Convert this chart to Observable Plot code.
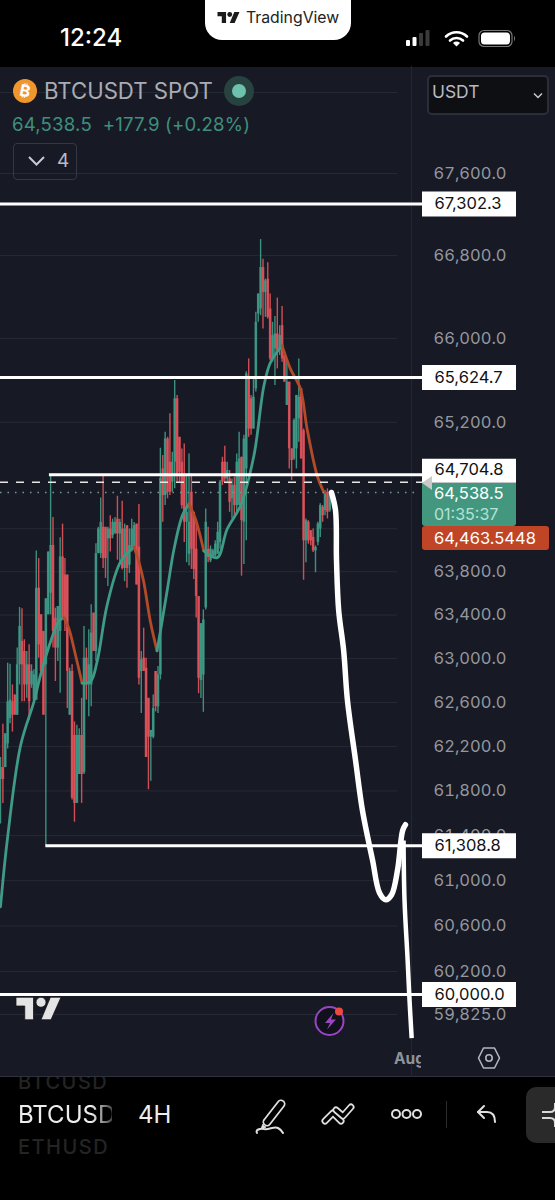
<!DOCTYPE html>
<html>
<head>
<meta charset="utf-8">
<script src="https://cdn.jsdelivr.net/npm/d3@7"></script>
<script src="https://cdn.jsdelivr.net/npm/@observablehq/plot@0.6"></script>
<style>
html,body{margin:0;padding:0;background:#000;width:555px;height:1200px;overflow:hidden;font-family:Inter,"Noto Sans",sans-serif}
#panel{position:absolute;left:0;top:67px;width:555px;height:1010px;background:#171a25;border-bottom:1px solid #2f323c;box-sizing:border-box}
#chart{position:absolute;left:0;top:0;width:555px;height:1200px}
#chart svg{display:block}
.o{position:absolute;white-space:nowrap;line-height:1}
svg.o{overflow:visible}
</style>
</head>
<body>
<div id="panel"></div>
<div id="chart"></div>

<!-- status bar -->
<div class="o" style="left:205px;top:0;width:146px;height:40px;background:#fff;border-radius:0 0 17px 17px"></div>
<svg class="o" style="left:217px;top:12px" width="23" height="11" viewBox="0 0 36 18"><path fill="#1b1b1b" d="M14 18H7V7H0V0h14v18z M28 18h-8l7.5-18H36z"/><circle cx="20" cy="4" r="4" fill="#1b1b1b"/></svg>
<div class="o" style="left:246px;top:10px;font-size:15.8px;color:#222">TradingView</div>
<div class="o" style="left:60px;top:26px;font-size:24px;font-weight:500;color:#fff">12:24</div>
<svg class="o" style="left:405px;top:29px" width="115" height="20">
  <rect x="1" y="11" width="4" height="6" rx="1" fill="#fff"/><rect x="7.5" y="8" width="4" height="9" rx="1" fill="#fff"/><rect x="14" y="4" width="4" height="13" rx="1" fill="#3a3a3a"/><rect x="20.5" y="1" width="4" height="16" rx="1" fill="#3a3a3a"/>
  <path d="M41 7.5a15 15 0 0 1 21 0" fill="none" stroke="#fff" stroke-width="2.6" stroke-linecap="round"/><path d="M45 11.5a9.5 9.5 0 0 1 13 0" fill="none" stroke="#fff" stroke-width="2.6" stroke-linecap="round"/><path d="M51.5 17.5l-3.5-3.5a5 5 0 0 1 7 0z" fill="#fff"/>
  <rect x="74" y="1.5" width="33" height="16" rx="5" fill="none" stroke="#777" stroke-width="1.2"/><rect x="76" y="3.5" width="29" height="12" rx="3.5" fill="#fff"/><path d="M109 7v5c1.4-.5 1.4-4.500 0-5z" fill="#777"/>
</svg>

<!-- chart header -->
<svg class="o" style="left:13px;top:79px" width="24" height="24"><circle cx="12" cy="12" r="12" fill="#f0962f"/><text x="12" y="17.500" text-anchor="middle" font-size="16" font-weight="700" fill="#fff" transform="rotate(12 12 12)" font-family="Inter">₿</text></svg>
<div class="o" style="left:44px;top:80px;font-size:22.2px;color:#a9acb5">BTCUSDT SPOT</div>
<svg class="o" style="left:223px;top:75px" width="32" height="32"><circle cx="16" cy="16" r="15" fill="#27423f"/><circle cx="16" cy="16" r="7" fill="#6cc2ad"/></svg>
<div class="o" style="left:12px;top:115px;font-size:18.6px;letter-spacing:.2px;color:#3f8f7d">64,538.5&nbsp; +177.9 (+0.28%)</div>
<div class="o" style="left:13px;top:143px;width:62px;height:35px;border:1px solid #343843;border-radius:4px;box-sizing:content-box"></div>
<svg class="o" style="left:27px;top:155px" width="20" height="12"><path d="M2 2l7.500 7.500L17 2" fill="none" stroke="#c8cad0" stroke-width="2"/></svg>
<div class="o" style="left:57px;top:151px;font-size:19px;color:#b9bbc2">4</div>
<div class="o" style="left:427px;top:75px;width:122px;height:40px;background:#0e0f13;border:2px solid #2b2e38;border-radius:5px;box-sizing:border-box"></div>
<div class="o" style="left:432px;top:83px;font-size:17.4px;color:#b8bac1">USDT</div>
<svg class="o" style="left:533px;top:92px" width="10" height="8"><path d="M1 1.500l4 4 4-4" fill="none" stroke="#c8cad0" stroke-width="1.500"/></svg>

<!-- last price / EMA tags -->
<div class="o" style="left:422px;top:483px;width:94px;height:43px;background:#43977f;border-radius:0 0 3px 3px"></div>
<div class="o" style="left:434px;top:485px;font-size:16.5px;color:#fff">64,538.5</div>
<div class="o" style="left:434px;top:506px;font-size:16px;color:#b5e3d6">01:35:37</div>
<div class="o" style="left:422px;top:526px;width:127px;height:24px;background:#bf4526;border-radius:3px"></div>
<div class="o" style="left:434px;top:530px;font-size:16.5px;color:#fff">64,463.5448</div>
<svg class="o" style="left:422px;top:476px" width="12" height="14"><path d="M0 7l10-7v14z" fill="#c9c9c9"/></svg>

<!-- watermark, bolt, time axis -->
<svg class="o" style="left:16px;top:997px" width="45" height="23" viewBox="0 0 36 18"><path fill="#e4e4e4" stroke="#111" stroke-width=".6" d="M14 18H7V7H0V0h14v18z M28 18h-8l7.500-18H36z"/><circle cx="20" cy="4" r="4" fill="#e4e4e4" stroke="#111" stroke-width=".6"/></svg>
<svg class="o" style="left:313px;top:1005px" width="36" height="32"><circle cx="16.500" cy="16" r="14" fill="#10111a" stroke="#9a45c4" stroke-width="2"/><path d="M20.500 8l-8.500 10h5l-3 6.500 9-10h-5z" fill="#9a45c4"/><circle cx="26" cy="6.500" r="4" fill="#ea4a3f"/></svg>
<div class="o" style="left:394px;top:1051px;width:27px;height:18px;overflow:hidden;font-size:15.5px;font-weight:700;color:#8f929b">Aug</div>
<svg class="o" style="left:477px;top:1046px" width="24" height="24"><path d="M6.500 2h11l5 10-5 10h-11l-5-10z" fill="none" stroke="#b4b6bd" stroke-width="1.600" stroke-linejoin="round"/><circle cx="12" cy="12" r="3.200" fill="none" stroke="#b4b6bd" stroke-width="1.600"/></svg>

<!-- bottom toolbar -->
<div class="o" style="left:18px;top:1077px;width:94px;height:16px;overflow:hidden;color:#242424;font-size:20px;font-weight:500;line-height:16px"><span style="position:relative;top:-3px;letter-spacing:1.500px">BTCUSD</span></div>
<div class="o" style="left:18px;top:1103px;width:94px;height:26px;overflow:hidden;font-size:24px;font-weight:400;color:#ededed;-webkit-mask-image:linear-gradient(90deg,#000 78%,rgba(0,0,0,.3) 100%)">BTCUSD</div>
<div class="o" style="left:18px;top:1137px;width:94px;height:18px;overflow:hidden;color:#242424;font-size:20px;font-weight:500;letter-spacing:1.500px">ETHUSD</div>
<div class="o" style="left:138px;top:1103px;font-size:24px;color:#ededed">4H</div>
<svg class="o" style="left:250px;top:1095px" width="40" height="46" fill="none" stroke-linecap="round" stroke-linejoin="round">
  <path d="M17 27L31 9" stroke="#e0e0e0" stroke-width="9"/><path d="M17 27L31 9" stroke="#000" stroke-width="5.500"/>
  <path d="M13 30l-1 3 3-1" stroke="#e0e0e0" stroke-width="2"/>
  <path d="M7 38c-2-3 3-5 7-4 5 1 10-3 14-1 2 1 4 3 5 5" stroke="#e0e0e0" stroke-width="2"/>
</svg>
<svg class="o" style="left:320px;top:1100px" width="38" height="28" fill="none" stroke-linecap="round" stroke-linejoin="round">
  <path d="M5 21l8-8 8 8" stroke="#e0e0e0" stroke-width="7"/><path d="M5 21l8-8 8 8" stroke="#000" stroke-width="3.500"/>
  <path d="M16 10l7 6 8-9" stroke="#e0e0e0" stroke-width="7"/><path d="M16 10l7 6 8-9" stroke="#000" stroke-width="3.500"/>
</svg>
<svg class="o" style="left:390px;top:1106px" width="34" height="16" fill="none" stroke="#e0e0e0" stroke-width="2"><circle cx="6" cy="8" r="4"/><circle cx="16.500" cy="8" r="4"/><circle cx="27" cy="8" r="4"/></svg>
<div class="o" style="left:446px;top:1101px;width:1px;height:27px;background:#2c2c2c"></div>
<svg class="o" style="left:476px;top:1104px" width="22" height="20" fill="none" stroke="#e0e0e0" stroke-width="2" stroke-linecap="round" stroke-linejoin="round"><path d="M8 2L2 8l6 6"/><path d="M2 8h9c5 0 8 3 8 10"/></svg>
<div class="o" style="left:526px;top:1087px;width:40px;height:56px;background:#2a2a2a;border-radius:10px"></div>
<svg class="o" style="left:541px;top:1102px" width="14" height="26" fill="none" stroke="#d8d8d8" stroke-width="2"><path d="M14 1v4c0 3-2 5-5 5H1M14 25v-4c0-3-2-5-5-5H1"/></svg>

<script>
// Four-hour candles (USDT)
const highs = [62101,62401,62315,62958,62949,62759,62667,63096,63469,63457,63172,63065,63126,62943,62897,63992,63922,63402,63249,63549,63983,64705,64305,63463,63478,64115,64243,63922,63769,62912,62943,62423,62392,62361,62637,63295,63096,63264,63494,63417,64060,64213,64488,64693,64213,64213,64320,64289,64305,64503,64289,64457,64243,64228,64197,64289,64259,64243,64427,63065,63279,63004,62637,62346,62667,62882,62927,64955,64886,65105,65058,65280,64917,65597,65455,65058,64948,64995,64698,64901,64713,64353,64291,63570,63320,63447,64385,64213,64040,64009,64087,64260,64651,64870,64973,64823,64745,64666,64682,64901,65105,64870,65077,65680,65803,65455,65629,66250,66426,66954,66762,66570,66730,66426,66154,66211,66387,66122,66307,65867,65788,65581,64949,65233,65455,65803,65518,65136,64291,64275,64181,64197,64040,64260,64432,64416,64557,64573,64541,64557];
const lows = [61505,61688,62010,62178,62407,62331,62484,62484,62759,62606,62606,62637,62438,62729,62606,62621,63004,62882,62484,61309,63402,63402,63096,62790,62973,62683,63371,63249,62545,62484,61719,61520,61688,61948,61688,61948,62621,62469,62560,63065,62973,63968,63922,63830,63738,63662,63983,64106,64151,63907,63891,63815,63708,63647,63784,63983,64014,63677,62759,62499,62882,62101,61811,61887,62270,62514,62499,62805,64260,64416,64479,64510,64541,64573,64635,64635,64385,64072,63884,63853,63821,63727,63372,62680,62635,62510,63447,63884,63884,63931,63931,63962,64009,64604,64620,64620,64353,64291,64291,64353,64416,63759,63868,64087,65058,65077,65136,65487,66154,66218,66090,66202,66186,65788,65772,65550,65708,65835,65772,65581,65360,64760,64651,64839,64760,65011,64854,63721,63884,64056,64040,63978,63790,64040,64119,64260,64322,64291,64353,64510];
const opens = [61902,62010,62010,62224,62453,62606,62667,62484,62943,63157,63065,62759,62943,62759,62621,62621,63647,63402,63249,62943,63402,63601,64044,63371,63096,63249,63937,63769,63769,62484,62882,62300,61688,61948,62300,61964,63004,62759,62759,63417,63065,63968,63968,64213,64213,64106,64197,64136,64151,64289,64151,64197,63830,64228,63861,64014,64029,64243,64029,62882,63004,62912,62637,62285,62285,62882,62560,62851,64760,64510,65042,64823,64635,64823,65423,65058,64823,64698,64260,63962,64541,64353,64009,63570,62800,62850,63465,64009,63900,63931,63947,63962,64072,64823,64823,64666,64666,64479,64604,64416,64416,64870,64260,64760,65629,65423,65136,65518,66234,66282,66682,66442,66570,66282,65804,65899,66042,65899,66122,65835,65360,65581,64949,64854,64949,65233,65518,65120,64087,64260,64181,64119,63994,64072,64197,64400,64369,64541,64369,64510];
const closes = [62010,61902,62315,62606,62621,62484,62484,62943,63295,62943,62759,62943,62606,62882,62851,63647,63126,62882,62484,63549,63983,64044,63249,63096,63478,63937,63371,63371,62882,62882,61734,61688,62300,62300,61948,63004,62759,62943,63234,63065,63968,64197,64259,63922,63922,64197,64106,64259,64259,64151,64259,63830,64197,63830,64044,64197,64228,63677,62820,62989,62882,62101,62285,62346,62545,62560,62851,64670,64510,65042,64541,64541,64823,65423,64698,64729,64416,64260,64353,64260,64009,63821,63570,62820,63320,63354,64260,63931,64009,63994,64056,64166,64635,64635,64666,64745,64447,64604,64416,64823,64854,64275,65042,65660,65136,65136,65439,66154,66426,66682,66442,66554,66202,65804,66026,66042,65883,66026,65804,65581,65581,64949,64839,65217,65455,65439,64854,64087,64275,64087,64087,63994,64025,64244,64416,64322,64526,64353,64526,64538.5];

// Moving average, split where it changes colour: [candle index, price]
const maRise1 = [[0,60769],[2.8,61352],[8.4,62208],[14,62606],[16.8,62851],[21,63157],[24.4,63341],[26.5,63377]];
const maFall1 = [[26.5,63377],[28.6,63279],[31.4,63035],[34.2,62775]];
const maRise2 = [[34.2,62775],[37.7,62790],[40.5,62973],[44.7,63494],[50.3,63891],[55.9,64029]];
const maFall2 = [[55.9,64029],[58,63891],[60,63708],[62.8,63341],[65.6,63071]];
const maRise3 = [[65.6,63071],[67,63249],[69.9,63634],[72.7,64009],[76.2,64322],[79,64432]];
const maFall3 = [[79,64432],[81.7,64291],[85.2,63994]];
const maRise4 = [[85.2,63994],[90.8,63931],[95,64197],[100.6,64416],[106.2,64886],[110.4,65550],[113.2,65772],[118,65930]];
const maFall4 = [[118,65930],[121.5,65708],[125.7,65518],[128.5,65136],[132.7,64698],[135.5,64541]];

// Hand-drawn projection strokes: [candle index, price]
const sketchA = [[138.7,64539],[140.4,64370],[140.8,63912],[141.7,63447],[143.8,63074],[145.4,62618],[148.8,62073],[151.7,61622],[155.9,61183],[158.8,60893],[161.4,60831],[163.9,60875],[166.4,61096],[168.5,61444],[169.7,61497]];
const sketchB = [[168.9,61357],[169.3,60831],[170.6,60304],[171.4,59950],[172.3,59620]];

// Horizontal levels: [price, first candle index]
const levels = [[67302.3,-5],[65624.7,-5],[64704.8,20.5],[61308.8,19],[60000,-5]];
const lastPrice = 64538.5;
const askLine = 64634;

const axisPrices = [67600,66800,66000,65200,63800,63400,63000,62600,62200,61800,61400,61000,60600,60200,59825];
const gridPrices = [68400,67600,66800,66000,65200,64200,63800,63400,63000,62600,62200,61800,61400,61000,60600,60200,59825];

const GREEN = "#3f9a86", RED = "#e0525a", MA_UP = "#3f9a86", MA_DOWN = "#b34a28";
const candles = highs.map((h,i)=>({i,h,l:lows[i],o:opens[i],c:closes[i]}));
const candleColor = d => d.c >= d.o ? GREEN : RED;
const toRow = (rows,seg,color) => rows.map(([i,p])=>({i,p,seg,color}));
const maRows = [
  ...toRow(maRise1,"r1",MA_UP),...toRow(maFall1,"f1",MA_DOWN),
  ...toRow(maRise2,"r2",MA_UP),...toRow(maFall2,"f2",MA_DOWN),
  ...toRow(maRise3,"r3",MA_UP),...toRow(maFall3,"f3",MA_DOWN),
  ...toRow(maRise4,"r4",MA_UP),...toRow(maFall4,"f4",MA_DOWN)
];
const fmt = d3.format(",.1f");
const levelRows = levels.map(([p,from])=>({p,from}));
const PX = 331.7/139;            // pixels per candle
const at = px => px/PX;          // candle index at a horizontal pixel
const tagged = levelRows.filter(d=>d.p!==64704.8);
const taggedHigh = levelRows.filter(d=>d.p===64704.8);

const plot = Plot.plot({
  width:555, height:1200,
  marginTop:0, marginBottom:0, marginLeft:0, marginRight:145,
  style:{background:"transparent",fontFamily:"Inter, 'Noto Sans', sans-serif"},
  x:{domain:[0,139],range:[0,331.7],axis:null},
  y:{type:"log",domain:[59825,67600],range:[1014,173]},
  marks:[
    Plot.ruleY(gridPrices,{x1:at(0),x2:at(397),stroke:"#262a35",strokeWidth:1}),
    Plot.ruleX([0],{x:at(411),y1:68660,y2:59280,stroke:"#232732",strokeWidth:1}),
    Plot.axisY({anchor:"right",ticks:axisPrices,tickFormat:fmt,tickSize:0,tickPadding:23,fontSize:16.5,color:"#95979f",label:null}),
    Plot.ruleX(candles,{x:"i",y1:"l",y2:"h",stroke:candleColor,strokeWidth:1.4,strokeOpacity:.92}),
    Plot.ruleX(candles,{x:"i",y1:"o",y2:"c",stroke:candleColor,strokeWidth:2.6,strokeOpacity:.88}),
    Plot.line(maRows,{x:"i",y:"p",z:"seg",stroke:"color",strokeWidth:2.8,curve:"catmull-rom"}),
    Plot.ruleY([askLine],{x1:at(0),x2:at(422),stroke:"#e6e6e6",strokeWidth:1.5,strokeDasharray:"8,8"}),
    Plot.ruleY([lastPrice],{x1:at(0),x2:at(418),stroke:"#6f9d93",strokeWidth:1.3,strokeDasharray:"1.500,6"}),
    Plot.ruleY(levelRows,{y:"p",x1:"from",x2:at(422),stroke:"#fff",strokeWidth:3}),
    Plot.ruleY(tagged,{y:"p",x1:at(422),x2:at(516),stroke:"#fff",strokeWidth:25}),
    Plot.ruleY(taggedHigh,{y:"p",dy:-4,x1:at(422),x2:at(516),stroke:"#fff",strokeWidth:24}),
    Plot.text(tagged,{y:"p",x:at(434),text:d=>fmt(d.p),textAnchor:"start",fill:"#111",fontSize:16.5}),
    Plot.text(taggedHigh,{y:"p",dy:-5,x:at(434),text:d=>fmt(d.p),textAnchor:"start",fill:"#111",fontSize:16.5}),
    Plot.line(sketchA,{x:"0",y:"1",stroke:"#fff",strokeWidth:5.5,strokeLinecap:"round",curve:"catmull-rom"}),
    Plot.line(sketchB,{x:"0",y:"1",stroke:"#fff",strokeWidth:4.5,strokeLinecap:"butt",curve:"catmull-rom"})
  ]
});
document.getElementById("chart").appendChild(plot);
</script>
</body>
</html>
